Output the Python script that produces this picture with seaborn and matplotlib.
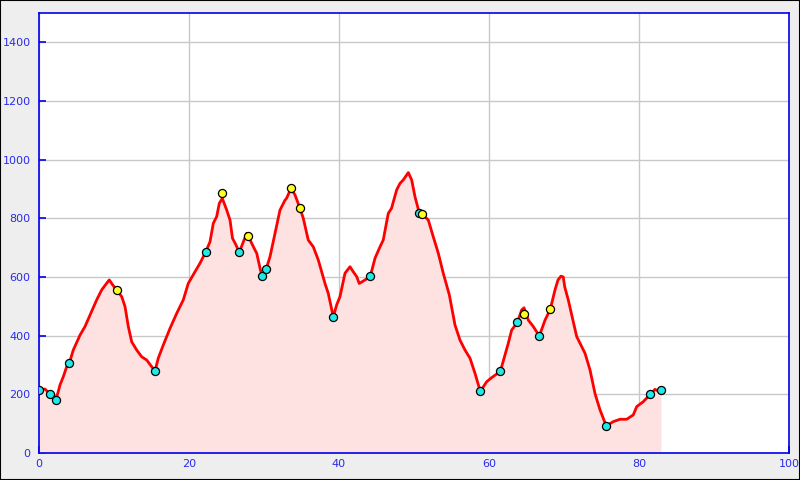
import matplotlib
matplotlib.use("Agg")
import matplotlib.pyplot as plt
import seaborn as sns
import pandas as pd
from matplotlib.patches import Rectangle

# Elevation profile (distance, elevation)
dist = [0.0, 0.8, 1.5, 1.9, 2.27, 2.8, 3.24, 3.69, 4.04, 4.57, 5.47, 6.13, 6.8, 7.69, 8.36, 9.03,
        9.37, 9.83, 10.44, 11.03, 11.47, 11.91, 12.36, 13.03, 13.69, 14.36, 15.03, 15.47, 15.9,
        16.57, 17.47, 18.36, 19.24, 19.9, 20.8, 21.47, 22.2, 22.8, 23.24, 23.69, 24.04, 24.44,
        25.03, 25.47, 25.8, 26.27, 26.7, 27.24, 27.69, 27.9, 28.36, 28.8, 29.03, 29.47, 29.73,
        30.27, 30.8, 31.47, 32.13, 32.8, 33.0, 33.6, 34.13, 34.8, 35.24, 35.9, 36.57, 37.24,
        37.69, 38.13, 38.57, 39.24, 39.69, 40.13, 40.8, 41.47, 41.9, 42.36, 42.7, 43.47, 44.17,
        44.8, 45.47, 45.9, 46.57, 47.0, 47.69, 48.13, 48.57, 49.24, 49.69, 50.13, 50.71, 51.11,
        51.91, 52.57, 53.24, 53.9, 54.71, 55.47, 56.13, 56.8, 57.47, 58.13, 58.84, 59.69, 60.36,
        61.51, 62.13, 62.57, 63.02, 63.78, 64.36, 64.67, 65.24, 65.91, 66.71, 67.47, 68.17, 68.8,
        69.2, 69.6, 69.9, 70.1, 70.57, 71.69, 72.8, 73.47, 74.13, 74.8, 75.64, 76.57, 77.47,
        78.36, 79.24, 79.69, 80.57, 81.51, 82.13, 82.57, 82.93]
elev = [215, 218, 200, 201, 181, 232, 260, 294, 306, 351, 402, 431, 470, 522, 556, 579,
        590, 573, 553, 533, 499, 431, 379, 351, 328, 317, 294, 280, 323,
        368, 425, 476, 522, 578, 618, 647, 684, 720, 783, 806, 851, 868,
        828, 794, 732, 709, 684, 720, 749, 739, 715, 692, 681, 630, 602,
        626, 669, 749, 828, 862, 868, 902, 880, 834, 800, 726, 703, 658,
        618, 578, 544, 464, 505, 533, 613, 635, 618, 601, 578, 590, 602,
        664, 703, 726, 817, 834, 897, 919, 931, 956, 931, 874, 818, 814,
        794, 737, 681, 613, 539, 436, 385, 351, 323, 272, 210, 243, 257,
        278, 334, 374, 419, 445, 488, 495, 453, 431, 399, 453, 490, 556,
        590, 603, 600, 566, 522, 397, 340, 283, 203, 147, 92, 107, 115,
        115, 130, 158, 175, 200, 217, 211, 215]

# Waypoint markers
cyan_x = [0.0, 1.5, 2.27, 4.04, 15.47, 22.2, 26.7, 29.73, 30.27, 39.24, 44.17, 50.71,
          58.84, 61.51, 63.78, 66.71, 75.64, 81.51, 82.93]
cyan_y = [215, 200, 181, 306, 280, 684, 684, 602, 626, 464, 602, 818,
          210, 278, 445, 399, 92, 200, 215]
yellow_x = [10.44, 24.44, 27.9, 33.64, 34.8, 51.11, 64.7, 68.17]
yellow_y = [557, 885, 739, 902, 834, 814, 473, 490]

x_ticks = [0, 20, 40, 60, 80, 100]
y_ticks = [0, 200, 400, 600, 800, 1000, 1200, 1400]

sns.set_style("white")
plt.rcParams['font.family'] = ['DejaVu Sans']

fig = plt.figure(figsize=(8, 4.8), dpi=100, facecolor='#eeeeee')
ax = fig.add_axes([39/800, 1-453/480, 750/800, 440/480])
ax.set_facecolor('white')

prof = pd.DataFrame({'dist': dist, 'elev': elev})
ax.fill_between(prof['dist'], prof['elev'], 0, color='#fee2e2', lw=0, zorder=1)
sns.lineplot(data=prof, x='dist', y='elev', ax=ax, color='#ff0000', linewidth=2.0,
             sort=False, zorder=3)

sns.scatterplot(x=cyan_x, y=cyan_y, ax=ax, color='#22e8e8', edgecolor='black',
                linewidth=0.9, s=34, zorder=4)
sns.scatterplot(x=yellow_x, y=yellow_y, ax=ax, color='#ffff22', edgecolor='black',
                linewidth=0.9, s=34, zorder=4)

ax.set_xlim(0, 100)
ax.set_ylim(0, 1500)
ax.set_xticks(x_ticks)
ax.set_yticks(y_ticks)
ax.set_xlabel('')
ax.set_ylabel('')
ax.grid(True, color='#c8c8c8', linewidth=1.0, zorder=0)
ax.set_axisbelow(True)
for s in ax.spines.values():
    s.set_color('#0000ee')
    s.set_linewidth(1.2)
ax.tick_params(axis='both', direction='in', length=5, width=1.2, color='#0000ee',
               labelcolor='#2a2aee', labelsize=8, left=True, bottom=True)
ax.tick_params(axis='y', pad=6)
ax.tick_params(axis='x', pad=4.5)

fig.patches.append(Rectangle((0, 0), 1, 1, transform=fig.transFigure, fill=False,
                             edgecolor='black', linewidth=1.5, zorder=10))

fig.savefig('out.png', dpi=100, facecolor=fig.get_facecolor())
